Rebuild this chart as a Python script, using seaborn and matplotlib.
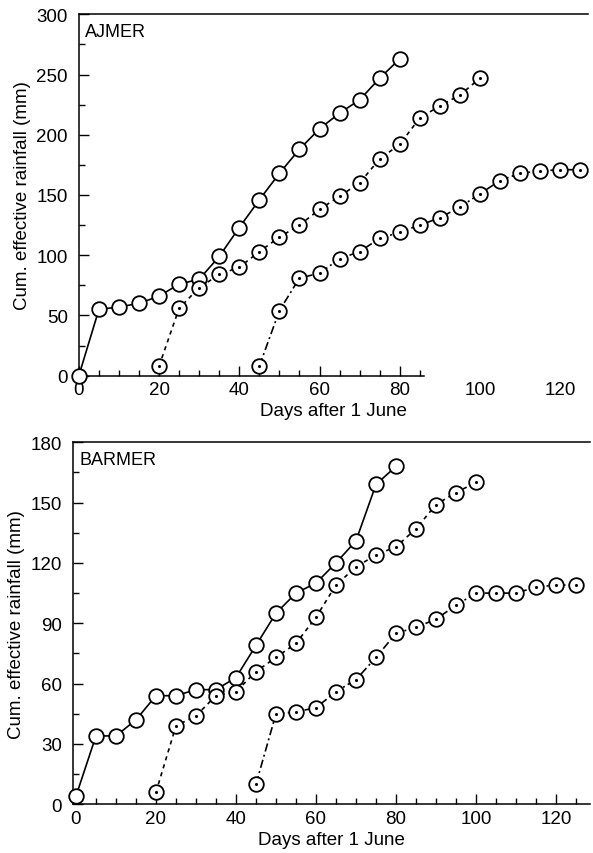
"""
Cumulative effective rainfall for three sowing dates, Ajmer and Barmer.
Writes out.png (593x854).
"""

import numpy as np
import pandas as pd
import matplotlib
matplotlib.use("Agg")          # headless
import matplotlib.pyplot as plt
import seaborn as sns
from matplotlib.ticker import FixedLocator, MultipleLocator

# ---------------------------------------------------------------------------
# Data
# ---------------------------------------------------------------------------
AJ_DAYS_1 = [0, 5, 10, 15, 20, 25, 30, 35, 40, 45, 50, 55, 60, 65, 70, 75, 80]
AJ_RAIN_1 = [0, 55, 57, 60, 66, 76, 80, 99, 123, 146, 168, 188, 205, 218, 229, 247, 263]

AJ_DAYS_2 = [20, 25, 30, 35, 40, 45, 50, 55, 60, 65, 70, 75, 80, 85, 90, 95, 100]
AJ_RAIN_2 = [8, 56, 73, 84, 90, 103, 115, 125, 138, 149, 160, 180, 192, 214, 224, 233, 247]

AJ_DAYS_3 = [45, 50, 55, 60, 65, 70, 75, 80, 85, 90, 95, 100, 105, 110, 115, 120, 125]
AJ_RAIN_3 = [8, 54, 81, 85, 97, 103, 114, 119, 125, 131, 140, 151, 162, 168, 170, 171, 171]

BA_DAYS_1 = [0, 5, 10, 15, 20, 25, 30, 35, 40, 45, 50, 55, 60, 65, 70, 75, 80]
BA_RAIN_1 = [4, 34, 34, 42, 54, 54, 57, 57, 63, 79, 95, 105, 110, 120, 131, 159, 168]

BA_DAYS_2 = [20, 25, 30, 35, 40, 45, 50, 55, 60, 65, 70, 75, 80, 85, 90, 95, 100]
BA_RAIN_2 = [6, 39, 44, 54, 56, 66, 73, 80, 93, 109, 118, 124, 128, 137, 149, 155, 160]

BA_DAYS_3 = [45, 50, 55, 60, 65, 70, 75, 80, 85, 90, 95, 100, 105, 110, 115, 120, 125]
BA_RAIN_3 = [10, 45, 46, 48, 56, 62, 73, 85, 88, 92, 99, 105, 105, 105, 108, 109, 109]

X_TICKS = [0, 20, 40, 60, 80, 100, 120]
AJ_Y_TICKS = [0, 50, 100, 150, 200, 250, 300]
BA_Y_TICKS = [0, 30, 60, 90, 120, 150, 180]

STYLES = ["-", (0, (2.5, 2.5)), (0, (5, 2, 1.2, 2))]

# ---------------------------------------------------------------------------
# Style
# ---------------------------------------------------------------------------
sns.set_theme(style="ticks")
plt.rcParams["font.family"] = ["Liberation Sans", "DejaVu Sans"]
plt.rcParams["text.color"] = "black"
plt.rcParams["axes.labelcolor"] = "black"

fig = plt.figure(figsize=(5.93, 8.54), dpi=100)
ax_top = fig.add_axes([0.133, 0.559, 0.859, 0.423])
ax_bot = fig.add_axes([0.123, 0.057, 0.872, 0.424])


def draw_series(ax, days, rain, style, dotted):
    df = pd.DataFrame({"day": days, "rain": rain})
    sns.lineplot(data=df, x="day", y="rain", ax=ax, color="black",
                 linestyle=style, linewidth=1.2, marker="o", markersize=10.5,
                 markerfacecolor="white", markeredgecolor="black",
                 markeredgewidth=1.3, clip_on=False, zorder=3)
    if dotted:
        sns.scatterplot(data=df, x="day", y="rain", ax=ax, color="black",
                        s=5, linewidth=0, clip_on=False, zorder=4)


def style_axes(ax, yticks, yminor, xlim, label):
    ax.set_ylim(yticks[0], yticks[-1])
    ax.set_xlim(*xlim)
    ax.set_xticks(X_TICKS)
    ax.set_yticks(yticks)
    ax.yaxis.set_minor_locator(MultipleLocator(yminor))
    ax.tick_params(axis="both", which="both", direction="in", width=1.0,
                   labelsize=13.5, colors="black")
    ax.tick_params(axis="both", which="major", length=7)
    ax.tick_params(axis="both", which="minor", length=4)
    ax.tick_params(axis="x", pad=4)
    ax.tick_params(axis="y", pad=8)
    ax.spines["right"].set_visible(False)
    for s in ("left", "top", "bottom"):
        ax.spines[s].set_linewidth(1.1)
        ax.spines[s].set_color("black")
    ax.set_xlabel("Days after 1 June", fontsize=13.5, labelpad=3)
    ax.set_ylabel("Cum. effective rainfall (mm)", fontsize=13.5, labelpad=4)
    ax.text(0.012, 0.975, label, transform=ax.transAxes, fontsize=13,
            ha="left", va="top")


# ---------------------------------------------------------------------------
# Ajmer
# ---------------------------------------------------------------------------
for days, rain, ls, dot in [(AJ_DAYS_1, AJ_RAIN_1, STYLES[0], False),
                            (AJ_DAYS_2, AJ_RAIN_2, STYLES[1], True),
                            (AJ_DAYS_3, AJ_RAIN_3, STYLES[2], True)]:
    draw_series(ax_top, days, rain, ls, dot)
style_axes(ax_top, AJ_Y_TICKS, 25, (0, 127), "AJMER")
# bottom axis line of this panel stops short of the last labels
ax_top.spines["bottom"].set_bounds(0, 86)
ax_top.xaxis.set_minor_locator(FixedLocator([5, 10, 15, 25, 30, 35, 45, 50,
                                             55, 65, 70, 75, 85]))
for t in ax_top.xaxis.get_major_ticks()[5:]:
    t.tick1line.set_visible(False)

# ---------------------------------------------------------------------------
# Barmer
# ---------------------------------------------------------------------------
for days, rain, ls, dot in [(BA_DAYS_1, BA_RAIN_1, STYLES[0], False),
                            (BA_DAYS_2, BA_RAIN_2, STYLES[1], True),
                            (BA_DAYS_3, BA_RAIN_3, STYLES[2], True)]:
    draw_series(ax_bot, days, rain, ls, dot)
style_axes(ax_bot, BA_Y_TICKS, 15, (-0.75, 128.5), "BARMER")
ax_bot.xaxis.set_minor_locator(MultipleLocator(5))

fig.savefig("out.png", dpi=100)
plt.close(fig)
